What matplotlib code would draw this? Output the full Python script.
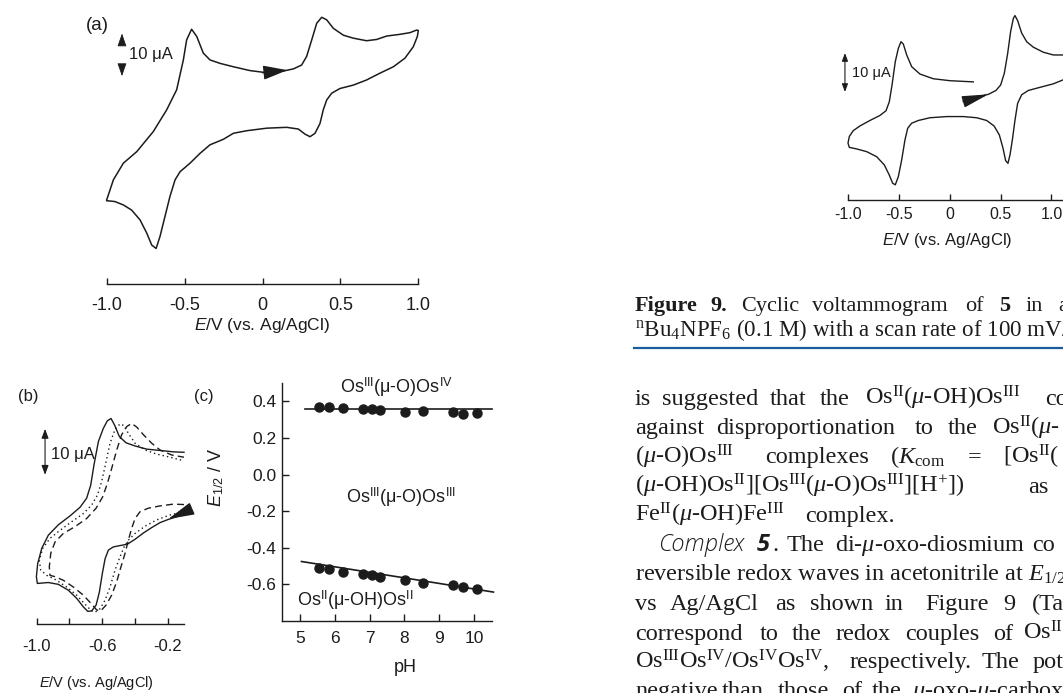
import matplotlib.pyplot as plt

plt.rcParams['font.family'] = ['Liberation Sans', 'DejaVu Sans']
plt.rcParams['axes.unicode_minus'] = False
plt.rcParams['mathtext.fontset'] = 'custom'
plt.rcParams['mathtext.rm'] = 'Liberation Serif'
plt.rcParams['mathtext.it'] = 'Liberation Serif:italic'
plt.rcParams['mathtext.bf'] = 'Liberation Serif:bold'
plt.rcParams['mathtext.sf'] = 'Liberation Sans'
plt.rcParams['mathtext.cal'] = 'Liberation Sans:italic'

INK = '#1c1c1c'
W, H = 1063, 693

# ---- data (potential in V vs Ag/AgCl, current in uA) ----
# panel (a): CV of the diosmium complex
v_a = [-1.000, -0.957, -0.893, -0.807, -0.701, -0.615, -0.551, -0.508, -0.487, -0.455,
       -0.422, -0.380, -0.337, -0.273, -0.187, -0.080, 0.027, 0.134, 0.198, 0.251,
       0.283, 0.316, 0.348, 0.380, 0.412, 0.455, 0.519, 0.583, 0.668, 0.733,
       0.797, 0.882, 0.947, 0.989, 1.000, 0.994, 0.968, 0.914, 0.840, 0.754,
       0.668, 0.583, 0.497, 0.444, 0.412, 0.390, 0.369, 0.337, 0.305, 0.273,
       0.230, 0.155, 0.027, -0.102, -0.187, -0.251, -0.337, -0.401, -0.465, -0.529,
       -0.561, -0.594, -0.626, -0.658, -0.683, -0.711, -0.743, -0.786, -0.840, -0.893,
       -0.947, -1.000]
i_a = [-15.6, -10.9, -7.0, -4.3, 0.4, 5.5, 10.2, 17.2, 21.9, 24.4,
       22.7, 18.8, 17.2, 16.4, 15.6, 14.7, 14.2, 14.6, 15.1, 16.0,
       18.0, 21.9, 25.8, 27.2, 26.6, 24.6, 23.0, 22.3, 21.7, 22.0,
       22.8, 23.2, 23.6, 24.2, 24.1, 22.7, 20.3, 17.6, 15.6, 14.1,
       12.5, 11.3, 10.5, 9.4, 7.8, 5.5, 2.3, 0.0, -0.8, -0.2,
       1.0, 1.4, 1.2, 0.6, 0.0, -1.4, -2.7, -4.7, -7.0, -9.0,
       -10.9, -14.8, -19.5, -24.2, -27.0, -26.2, -23.4, -20.3, -18.0, -16.8,
       -16.0, -15.8]

# panel (b): three CVs (solid, dotted, dashed)
v_b1 = [-0.100, -0.145, -0.196, -0.246, -0.297, -0.348, -0.399, -0.446, -0.491, -0.532,
        -0.562, -0.582, -0.599, -0.617, -0.637, -0.664, -0.688, -0.715, -0.756, -0.807,
        -0.868, -0.929, -0.996, -1.002, -0.994, -0.969, -0.929, -0.868, -0.796, -0.735,
        -0.695, -0.670, -0.650, -0.623, -0.593, -0.568, -0.546, -0.525, -0.495, -0.454,
        -0.399, -0.328, -0.246, -0.165, -0.100]
i_b1 = [4.1, 3.7, 3.1, 2.4, 1.3, 0.1, -1.3, -2.4, -2.7, -3.0,
        -3.7, -5.6, -8.9, -13.0, -15.9, -17.2, -17.3, -16.3, -14.4, -12.6,
        -11.3, -10.9, -11.1, -9.6, -6.7, -3.3, -0.4, 1.9, 3.9, 5.8,
        7.8, 10.7, 15.2, 20.4, 23.3, 25.0, 25.5, 24.1, 21.5, 20.1,
        19.4, 18.7, 18.4, 18.1, 18.0]
v_b2 = [-0.100, -0.185, -0.267, -0.338, -0.399, -0.440, -0.466, -0.491, -0.521, -0.552,
        -0.582, -0.613, -0.644, -0.670, -0.705, -0.756, -0.817, -0.878, -0.939, -0.976,
        -0.984, -0.963, -0.919, -0.857, -0.786, -0.715, -0.664, -0.629, -0.603, -0.578,
        -0.552, -0.521, -0.491, -0.466, -0.440, -0.399, -0.338, -0.267, -0.185, -0.100]
i_b2 = [4.8, 4.1, 3.0, 1.6, 0.0, -1.5, -3.0, -5.2, -8.1, -11.9,
        -14.8, -16.7, -17.5, -17.0, -15.7, -13.7, -11.9, -10.4, -9.3, -8.1,
        -5.9, -3.3, -1.1, 0.7, 2.6, 4.4, 6.3, 8.5, 11.5, 15.6,
        20.0, 23.1, 24.3, 23.9, 22.2, 20.0, 18.5, 17.6, 16.9, 16.1]
v_b3 = [-0.100, -0.165, -0.246, -0.318, -0.369, -0.399, -0.420, -0.440, -0.460, -0.485,
        -0.511, -0.542, -0.576, -0.609, -0.633, -0.664, -0.715, -0.776, -0.837, -0.888,
        -0.919, -0.923, -0.914, -0.888, -0.837, -0.766, -0.695, -0.637, -0.597, -0.568,
        -0.542, -0.511, -0.481, -0.450, -0.420, -0.389, -0.348, -0.297, -0.246, -0.175,
        -0.100]
i_b3 = [6.4, 6.5, 6.1, 5.6, 4.8, 3.3, 1.1, -1.5, -4.4, -7.4,
        -10.7, -13.7, -15.9, -17.2, -17.0, -15.7, -13.7, -11.9, -10.4, -9.6,
        -9.3, -7.4, -4.4, -1.9, 0.0, 1.5, 3.3, 5.6, 8.1, 11.1,
        14.4, 18.5, 21.9, 23.7, 24.4, 23.6, 21.9, 20.0, 18.5, 17.4,
        16.9]

# panel (c): E1/2 vs pH
ph = [5.55, 5.85, 6.25, 6.82, 7.07, 7.31, 8.01, 8.54, 9.38, 9.69, 10.08]
e_upper = [0.367, 0.367, 0.364, 0.360, 0.358, 0.355, 0.344, 0.349, 0.340, 0.333, 0.336]
e_lower = [-0.509, -0.518, -0.531, -0.542, -0.551, -0.558, -0.578, -0.591, -0.605, -0.613, -0.624]
fit_up_ph, fit_up_e = [5.15, 10.5], [0.358, 0.358]
fit_lo_ph, fit_lo_e = [5.05, 10.55], [-0.475, -0.642]

# Figure 9: CV of complex 5
v_9 = [0.134, 0.265, 0.380, 0.455, 0.501, 0.537, 0.570, 0.599, 0.626, 0.642,
       0.668, 0.708, 0.757, 0.822, 0.921, 1.019, 1.114, 1.20, 1.20, 1.114,
       1.019, 0.888, 0.773, 0.708, 0.668, 0.642, 0.616, 0.593, 0.573, 0.550,
       0.524, 0.488, 0.436, 0.363, 0.265, 0.134, -0.030, -0.194, -0.308, -0.374,
       -0.413, -0.440, -0.472, -0.505, -0.535, -0.561, -0.594, -0.643, -0.718, -0.816,
       -0.915, -0.987, -1.000, -0.987, -0.948, -0.882, -0.784, -0.685, -0.626, -0.594,
       -0.567, -0.535, -0.505, -0.479, -0.456, -0.423, -0.374, -0.292, -0.161, 0.003,
       0.232]
i_9 = [4.0, 5.0, 5.7, 6.7, 8.1, 11.1, 16.2, 21.8, 25.2, 25.9,
       24.6, 21.4, 19.2, 17.8, 16.5, 15.8, 15.8, 15.5, 9.0, 9.4,
       8.4, 7.5, 6.7, 5.6, 3.4, -0.9, -6.0, -9.8, -12.0, -11.3,
       -8.1, -4.7, -2.4, -1.0, -0.3, 0.0, 0.0, -0.3, -1.0, -1.7,
       -3.0, -6.0, -11.1, -15.4, -17.5, -17.1, -15.0, -12.4, -10.3, -9.0,
       -8.3, -7.9, -6.8, -5.1, -3.6, -2.4, -1.0, 0.3, 1.5, 3.8,
       8.1, 14.1, 17.5, 19.2, 18.6, 15.8, 12.8, 10.9, 9.7, 9.2,
       8.9]

fig = plt.figure(figsize=(W / 100, H / 100), dpi=100)
renderer = fig.canvas.get_renderer()


def box(x0, y0, x1, y1):
    return fig.add_axes([x0 / W, 1 - y1 / H, (x1 - x0) / W, (y1 - y0) / H])


def ftext(x, y, s, **kw):
    kw.setdefault('color', INK)
    return fig.text(x / W, 1 - y / H, s, **kw)


def words_line(y, words, gap=4, **kw):
    # place words at their read positions, pushing right only if they would collide
    end = 0
    for x, s, extra in words:
        t = ftext(max(x, end + gap), y, s, **kw, **extra)
        end = t.get_window_extent(renderer).x1


def cv_axes(ax, ticks, labels, fs, pad):
    ax.patch.set_alpha(0)
    for s in ['left', 'right', 'top']:
        ax.spines[s].set_visible(False)
    ax.spines['bottom'].set_color(INK)
    ax.spines['bottom'].set_linewidth(1.0)
    ax.set_yticks([])
    ax.set_xticks(ticks)
    ax.set_xticklabels(labels, fontsize=fs, color=INK)
    ax.tick_params(axis='x', direction='in', length=4, width=1, pad=pad, colors=INK)


def head(ax, tail, tip, scale, hl, hw, lw=1.0):
    ax.annotate('', xy=tip, xytext=tail,
                arrowprops=dict(arrowstyle=f'-|>,head_length={hl},head_width={hw}',
                                color=INK, lw=lw, mutation_scale=scale,
                                shrinkA=0, shrinkB=0))


# ---- panel (a) ----
ax_a = box(106.7, 0, 418.3, 284.3)
ax_a.plot(v_a, i_a, color=INK, lw=1.1, clip_on=False)
ax_a.set_xlim(-1, 1)
ax_a.set_ylim(-35.4, 31.25)
cv_axes(ax_a, [-1, -0.5, 0, 0.5, 1.0], ['-1.0', '-0.5', '0', '0.5', '1.0'], 13, 9.5)
head(ax_a, (0.0, 14.2), (0.16, 14.8), 20, 0.75, 0.22)
head(ax_a, (-0.902, 21.5), (-0.902, 23.4), 8, 1.0, 0.35, lw=0.6)
head(ax_a, (-0.902, 15.3), (-0.902, 13.4), 8, 1.0, 0.35, lw=0.6)
ax_a.text(-0.855, 18.4, '10 μA', fontsize=12, va='center', ha='left', color=INK)
ftext(97, 25, '(a)', fontsize=13.5, ha='center', va='center')
ftext(262, 325, r'$\mathcal{E}$/V (vs. Ag/AgCl)', fontsize=12.5, ha='center', va='center')

# ---- panel (b) ----
ax_b = box(36.7, 400, 184, 624)
ax_b.plot(v_b1, i_b1, color=INK, lw=1.0, clip_on=False)
ax_b.plot(v_b2, i_b2, color=INK, lw=1.0, ls=(0, (1, 2.2)), clip_on=False)
ax_b.plot(v_b3, i_b3, color=INK, lw=1.0, ls=(0, (5, 3)), clip_on=False)
ax_b.set_xlim(-1.0, -0.1)
ax_b.set_ylim(-20.1, 29.6)
cv_axes(ax_b, [-1.0, -0.8, -0.6, -0.4, -0.2], ['-1.0', '', '-0.6', '', '-0.2'], 12, 11)
head(ax_b, (-0.063, 5.3), (-0.196, 3.2), 18, 0.9, 0.22)
ax_b.annotate('', xy=(-0.949, 23.2), xytext=(-0.949, 13.0),
              arrowprops=dict(arrowstyle='<|-|>,head_length=0.8,head_width=0.3',
                              color=INK, lw=0.8, mutation_scale=7, shrinkA=0, shrinkB=0))
ax_b.text(-0.91, 17.6, '10 μA', fontsize=12, va='center', ha='left', color=INK)
ftext(28, 396, '(b)', fontsize=12, ha='center', va='center')
ftext(96, 683, r'$\mathcal{E}$/V (vs. Ag/AgCl)', fontsize=10.5, ha='center', va='center')

# ---- panel (c) ----
ax_c = box(282.3, 383, 491.7, 621)
ax_c.patch.set_alpha(0)
ax_c.plot(fit_up_ph, fit_up_e, color=INK, lw=1.2, clip_on=False)
ax_c.plot(fit_lo_ph, fit_lo_e, color=INK, lw=1.2, clip_on=False)
ax_c.plot(ph, e_upper, 'o', color=INK, ms=6.5, clip_on=False)
ax_c.plot(ph, e_lower, 'o', color=INK, ms=6.5, clip_on=False)
ax_c.set_xlim(4.5, 10.5)
ax_c.set_ylim(-0.8, 0.5)
for s in ['right', 'top']:
    ax_c.spines[s].set_visible(False)
for s in ['left', 'bottom']:
    ax_c.spines[s].set_color(INK)
    ax_c.spines[s].set_linewidth(1.0)
ax_c.set_xticks([5, 6, 7, 8, 9, 10])
ax_c.set_yticks([0.4, 0.2, 0.0, -0.2, -0.4, -0.6])
ax_c.set_yticklabels(['0.4', '0.2', '0.0', '-0.2', '-0.4', '-0.6'])
ax_c.tick_params(direction='in', length=5, width=1, labelsize=12.5, colors=INK)
ax_c.tick_params(axis='x', pad=7.5)
ax_c.tick_params(axis='y', pad=4.5)
ax_c.text(7.76, 0.478, r'Os$^{\mathsf{III}}$(μ-O)Os$^{\mathsf{IV}}$', fontsize=13,
          ha='center', va='center', color=INK)
ax_c.text(7.90, -0.123, r'Os$^{\mathsf{III}}$(μ-O)Os$^{\mathsf{III}}$', fontsize=13,
          ha='center', va='center', color=INK)
ax_c.text(6.58, -0.685, r'Os$^{\mathsf{II}}$(μ-OH)Os$^{\mathsf{II}}$', fontsize=13,
          ha='center', va='center', color=INK)
ftext(204, 396, '(c)', fontsize=12, ha='center', va='center')
ftext(405, 668, 'pH', fontsize=13, ha='center', va='center')
ftext(216, 477, r'$\mathcal{E}_{\mathsf{1/2}}$ / V', fontsize=13, ha='center', va='center',
      rotation=90)

# ---- Figure 9 ----
ax_9 = box(848, 0, 1063, 200)
ax_9.plot(v_9, i_9, color=INK, lw=1.0, clip_on=False)
ax_9.set_xlim(-1.0, 1.114)
ax_9.set_ylim(-21.4, 29.9)
cv_axes(ax_9, [-1, -0.5, 0, 0.5, 1.0], ['-1.0', '-0.5', '0', '0.5', '1.0'], 11.5, 5)
head(ax_9, (0.134, 3.8), (0.38, 5.7), 18, 0.9, 0.2)
ax_9.annotate('', xy=(-1.03, 16.3), xytext=(-1.03, 6.3),
              arrowprops=dict(arrowstyle='<|-|>,head_length=0.8,head_width=0.3',
                              color=INK, lw=0.8, mutation_scale=6, shrinkA=0, shrinkB=0),
              annotation_clip=False)
ax_9.text(-0.965, 11.2, '10 μA', fontsize=10.5, va='center', ha='left', color=INK)
ftext(947, 240, r'$\mathcal{E}$/V (vs. Ag/AgCl)', fontsize=12, ha='center', va='center')

# ---- caption and body text ----
CAP = dict(family='Liberation Serif', fontsize=16, va='baseline')
B = {'fontweight': 'bold'}
N = {}
words_line(310.7, [(635, 'Figure', B), (710, '9.', B), (741, 'Cyclic', N),
                   (812, 'voltammogram', N), (965, 'of', N), (999, '5', B),
                   (1026, 'in', N), (1058, 'a', N)], **CAP)
ftext(635, 335.7, r'$^{\mathrm{n}}$Bu$_{\mathrm{4}}$NPF$_{\mathrm{6}}$ (0.1 M) with a scan rate of 100 mV/',
      family='Liberation Serif', fontsize=16.6, va='baseline')
fig.add_artist(plt.Line2D([634 / W, 1], [1 - 348.3 / H, 1 - 348.3 / H], color='#1a5c9e', lw=1.6))

mu = r'$\mathit{μ}$'
II, III, IV = r'$^{\mathrm{II}}$', r'$^{\mathrm{III}}$', r'$^{\mathrm{IV}}$'
body = [
    (405, [(635, 'is'), (662, 'suggested'), (770, 'that'), (820, 'the'),
           (865, 'Os' + II + '(' + mu + '-OH)Os' + III), (1045, 'co')]),
    (434, [(635, 'against'), (716, 'disproportionation'), (915, 'to'), (948, 'the'),
           (992, 'Os' + II + '(' + mu + '-')]),
    (463.3, [(635, '(' + mu + '-O)Os' + III), (765, 'complexes'),
             (890, r'($\mathit{K}_{\mathrm{com}}$'), (968, '='), (1003, '[Os' + II + '(')]),
    (492.7, [(635, '(' + mu + '-OH)Os' + II + '][Os' + III + '(' + mu + '-O)Os' + III +
              '][H$^{+}$])'), (1028, 'as')]),
    (521.7, [(635, 'Fe' + II + '(' + mu + '-OH)Fe' + III), (805, 'complex.')]),
    (551, [(772, '.'), (787, 'The'), (835, 'di-' + mu + '-oxo-diosmium'), (1032, 'co')]),
    (580.7, [(635, 'reversible redox waves in acetonitrile at ' + r'$\mathit{E}_{\mathrm{1/2}}$')]),
    (610, [(635, 'vs'), (670, 'Ag/AgCl'), (775, 'as'), (810, 'shown'), (885, 'in'),
           (925, 'Figure'), (1003, '9'), (1032, '(Ta')]),
    (640, [(635, 'correspond'), (760, 'to'), (792, 'the'), (836, 'redox'), (905, 'couples'),
           (993, 'of'), (1023, 'Os' + II)]),
    (668.3, [(635, 'Os' + III + 'Os' + IV + '/Os' + IV + 'Os' + IV + ','),
             (850, 'respectively.'), (982, 'The'), (1033, 'pot')]),
    (697, [(635, 'negative'), (715, 'than'), (778, 'those'), (842, 'of'), (872, 'the'),
           (912, mu + '-oxo-' + mu + '-carbox')]),
]
BODY = dict(family='Liberation Serif', fontsize=17.5, va='baseline')
for y, words in body:
    words_line(y, [(x, s, N) for x, s in words], **BODY)
ftext(658, 551, 'Complex', family='Open Sans', style='italic', fontweight='light',
      fontsize=17, va='baseline')
ftext(757, 551, '5', family='Open Sans', style='italic', fontweight='bold', fontsize=17,
      va='baseline')

fig.savefig('out.png', dpi=100)
